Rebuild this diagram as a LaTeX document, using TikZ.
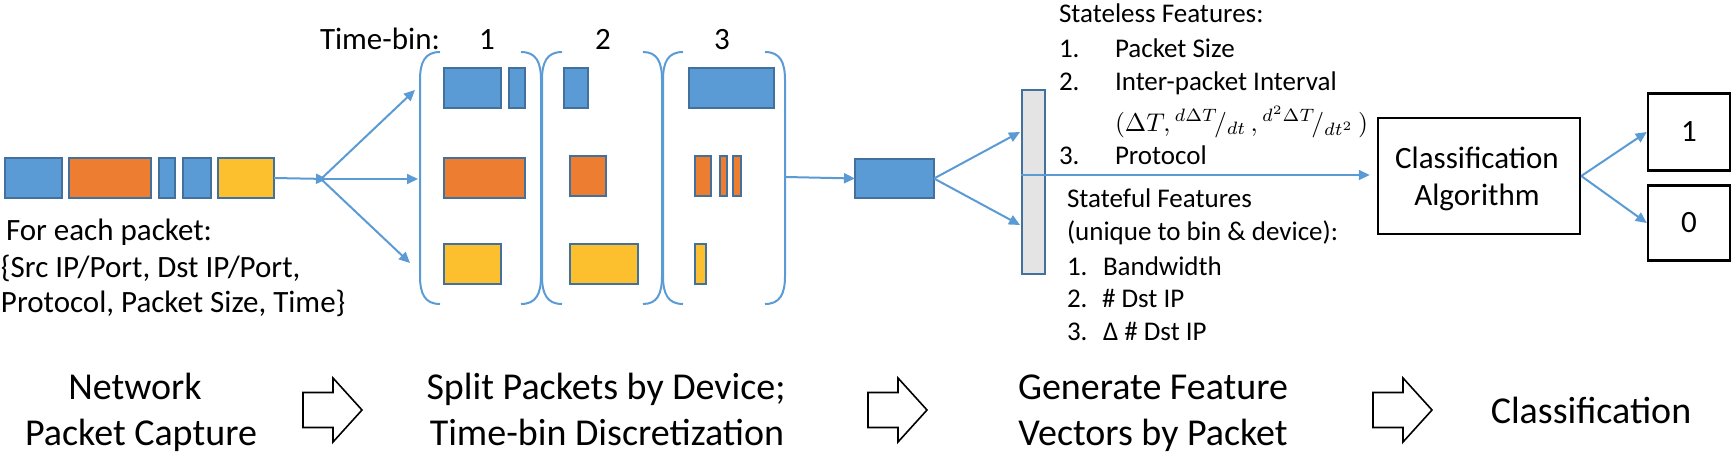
\documentclass[tikz,border=0pt]{standalone}
\usepackage{graphicx}
\usepackage{fontspec}
\setmainfont{Carlito}
\usetikzlibrary{arrows.meta}
\definecolor{pblue}{HTML}{5B9BD5}
\definecolor{pedge}{HTML}{41719C}
\definecolor{porange}{HTML}{ED7D31}
\definecolor{pyellow}{HTML}{FCBF2E}
\definecolor{vgray}{HTML}{E4E4E4}
\newcommand\ftxtA{\fontsize{31}{36}\selectfont}
\newcommand\ftxtB{\fontsize{27}{33}\selectfont}
\newcommand\ftxtC{\fontsize{38}{46}\selectfont}
\tikzset{
  pktbox/.style={draw=pedge, line width=2.5pt, inner sep=0pt, outer sep=0pt, anchor=north west},
  conn/.style={draw=pblue, line width=2pt, -{Triangle[length=11pt,width=10pt]}},
  brk/.style={draw=pblue, line width=2pt},
  hol/.style={draw=black, line width=1.6pt, fill=white, line join=miter},
  blk/.style={draw=black, line width=2.5pt, inner sep=0pt},
  lbl/.style={inner sep=0pt, outer sep=0pt, anchor=base west},
  cbl/.style={inner sep=0pt, outer sep=0pt, anchor=base},
  tA/.style={font=\ftxtA},
  tB/.style={font=\ftxtB},
  tC/.style={font=\ftxtC},
}
\newcommand\pk[6]{\node[pktbox, fill=#6, minimum width={(#4-#2-2)*1pt}, minimum height={(#5-#3-2)*1pt}] (#1) at ({#2+1},{#3+1}) {};}
\newcommand\brk[2]{\draw[brk] (#2,52) .. controls ({#1+0.25*(#2-#1)},52) and (#1,62) .. (#1,80) -- (#1,276) .. controls (#1,294) and ({#1+0.25*(#2-#1)},304) .. (#2,304);}
\newcommand\harrow[1]{\draw[hol] (#1,392.5) -- ({#1+30},392.5) -- ({#1+30},378) -- ({#1+59},410) -- ({#1+30},442) -- ({#1+30},427.5) -- (#1,427.5) -- cycle;}
\begin{document}
\begin{tikzpicture}[x=1pt,y=-1pt]
\useasboundingbox (0,0) rectangle (1732,466);

% packet stream
\pk{a1}{4}{157}{63}{199}{pblue}
\pk{a2}{68}{157}{152}{199}{porange}
\pk{a3}{158}{157}{176}{199}{pblue}
\pk{a4}{182}{157}{212}{199}{pblue}
\pk{a5}{217}{157}{275}{199}{pyellow}

\node[lbl,tA] (fp1) at (6,240) {For each packet:};
\node[lbl,tA] (fp2) at (1,277) {\{Src IP/Port, Dst IP/Port,};
\node[lbl,tA] (fp3) at (1,312) {Protocol, Packet Size, Time\}};

% split arrows
\coordinate (J) at (327,179);
\coordinate (J0) at (321,179);
\coordinate (t1) at (415,90);
\coordinate (t2) at (418,179);
\coordinate (t3) at (410,263);
\draw[conn] (a5.east) -- (J);
\draw[conn] (J0) -- (t1);
\draw[conn] (J0) -- (t2);
\draw[conn] (J0) -- (t3);

% time bins
\node[lbl,tA] (tb) at (320,49) {Time-bin:};
\node[cbl,tA] (n1) at (487,49) {1};
\node[cbl,tA] (n2) at (603,49) {2};
\node[cbl,tA] (n3) at (722,49) {3};

\brk{420}{440}
\brk{541}{521}
\brk{542}{562}
\brk{662}{643}
\brk{663}{683}
\brk{785}{765}

\pk{b1}{443}{67}{502}{109}{pblue}
\pk{b2}{508}{67}{526}{109}{pblue}
\pk{b3}{443}{157}{526}{199}{porange}
\pk{b4}{443}{243}{502}{285}{pyellow}

\pk{c1}{563}{67}{589}{109}{pblue}
\pk{c2}{569}{155}{607}{197}{porange}
\pk{c3}{569}{243}{639}{285}{pyellow}

\pk{d1}{688}{67}{775}{109}{pblue}
\pk{d2}{694}{155}{712}{197}{porange}
\pk{d3}{719}{155}{728}{197}{porange}
\pk{d4}{732}{155}{742}{197}{porange}
\pk{d5}{694}{243}{707}{285}{pyellow}

% feature vector
\coordinate (b3r) at (786,177);
\pk{e1}{854}{158}{935}{199}{pblue}
\draw[conn] (b3r) -- (e1.west);
\pk{fv}{1021}{89}{1046}{275}{vgray}
\coordinate (v1) at (1020,132);
\coordinate (v2) at (1020,225);
\draw[conn] (e1.east) -- (v1);
\draw[conn] (e1.east) -- (v2);

% features text
\node[lbl,tB] (sl0) at (1059,22) {Stateless Features:};
\node[lbl,tB] (sl1n) at (1059,57) {1.};
\node[lbl,tB] (sl1) at (1115,57) {Packet Size};
\node[lbl,tB] (sl2n) at (1059,90) {2.};
\node[lbl,tB] (sl2) at (1115,90) {Inter-packet Interval};
\node[lbl] (sl2m) at (1115,131) {\resizebox{253pt}{!}{$(\Delta T, {}^{d\Delta T}\!/_{dt}\,, {}^{d^2\Delta T}\!/_{dt^2}\,)$}};
\node[lbl,tB] (sl3n) at (1059,164) {3.};
\node[lbl,tB] (sl3) at (1115,164) {Protocol};
\node[lbl,tB] (sf0) at (1067,207) {Stateful Features};
\node[lbl,tB] (sf0b) at (1067,240) {(unique to bin \& device):};
\node[lbl,tB] (sf1n) at (1067,275) {1.};
\node[lbl,tB] (sf1) at (1103,275) {Bandwidth};
\node[lbl,tB] (sf2n) at (1067,307) {2.};
\node[lbl,tB] (sf2) at (1102,307) {\# Dst IP};
\node[lbl,tB] (sf3n) at (1067,340) {3.};
\node[lbl,tB] (sf3) at (1103,340) {Δ \# Dst IP};

% classification
\node[blk, minimum width=202pt, minimum height=116pt] (cb) at (1479,176) {};
\node[cbl,tA] (cbt1) at (1477,168) {Classification};
\node[cbl,tA] (cbt2) at (1477,205) {Algorithm};
\coordinate (fl) at (1021,175);
\draw[conn, shorten >=7pt] (fl) -- (cb.west |- fl);

\node[blk, tA, minimum width=82pt, minimum height=77pt] (o1) at (1689,132) {1};
\node[blk, tA, minimum width=82pt, minimum height=75pt] (o0) at (1689,223) {0};
\draw[conn] (cb.east) -- (o1.west);
\draw[conn] (cb.east) -- (o0.west);

% bottom pipeline
\node[cbl,tC] (bt1a) at (135,399) {Network};
\node[cbl,tC] (bt1b) at (141,445) {Packet Capture};
\node[cbl,tC] (bt2a) at (606,399) {Split Packets by Device;};
\node[cbl,tC] (bt2b) at (607,445) {Time-bin Discretization};
\node[cbl,tC] (bt3a) at (1153,399) {Generate Feature};
\node[cbl,tC] (bt3b) at (1153,445) {Vectors by Packet};
\node[cbl,tC] (bt4) at (1591,423) {Classification};
\harrow{303}
\harrow{868}
\harrow{1373}
\end{tikzpicture}
\end{document}
